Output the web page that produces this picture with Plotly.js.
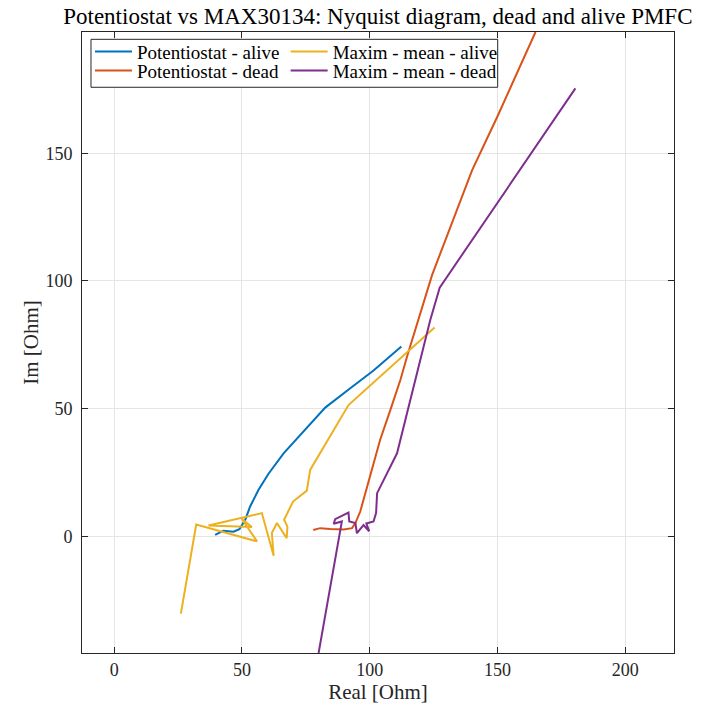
<!DOCTYPE html>
<html>
<head>
<meta charset="utf-8">
<script src="https://cdn.plot.ly/plotly-3.0.1.min.js"></script>
<style>html,body{margin:0;padding:0;background:#fff;}#chart{width:705px;height:708px;}</style>
</head>
<body>
<div id="chart"></div>
<script>
// Potentiostat - alive
const potAliveRe = [39.5,42.8,46.7,49.0,51.3,53.2,56.5,60.4,66.3,72.8,82.6,92.4,101.5,112.4];
const potAliveIm = [0.6,2.2,1.8,2.8,6.5,11.7,18.2,24.5,32.5,39.7,50.4,58.0,64.9,74.3];
// Potentiostat - dead
const potDeadRe = [77.9,80.6,84.6,89.8,93.1,94.4,96.3,98.3,100.9,104.1,108.1,112.0,114.6,124.4,140.1,149.9,164.9];
const potDeadIm = [2.5,3.2,2.9,2.7,3.2,5.2,9.7,16.9,27.3,37.8,49.5,61.2,70.3,102.3,143.4,164.2,197.5];
// Maxim - mean - alive
const maxAliveRe = [26.1,32.1,55.9,50.0,53.9,36.9,57.8,62.4,61.7,63.7,67.5,67.8,66.5,70.0,75.4,76.7,91.7,125.4];
const maxAliveIm = [-30.3,4.6,-2.0,6.8,3.6,4.2,9.1,-7.6,1.3,5.2,-0.7,3.8,6.5,13.6,17.9,26.0,51.4,81.8];
// Maxim - mean - dead
const maxDeadRe = [180.5,127.4,123.7,119.8,115.9,110.7,102.9,102.5,101.5,98.7,99.8,97.6,95.0,94.4,92.0,91.7,86.5,85.9,89.1,80.0];
const maxDeadIm = [175.4,97.4,84.7,69.0,53.4,32.5,16.9,9.1,5.8,5.0,2.0,4.4,1.2,5.2,5.8,9.3,6.7,4.9,5.8,-45.7];

const xTicks = [0,50,100,150,200];
const yTicks = [0,50,100,150];

const FONT = '"Liberation Serif", "DejaVu Serif", serif';
const lw = 2;

const traces = [
  {x: potAliveRe, y: potAliveIm, name: 'Potentiostat - alive', mode: 'lines', line: {color: '#0072BD', width: lw}, legend: 'legend'},
  {x: potDeadRe, y: potDeadIm, name: 'Potentiostat - dead', mode: 'lines', line: {color: '#D95319', width: lw}, legend: 'legend2'},
  {x: maxAliveRe, y: maxAliveIm, name: 'Maxim - mean - alive', mode: 'lines', line: {color: '#EDB120', width: lw}, legend: 'legend3'},
  {x: maxDeadRe, y: maxDeadIm, name: 'Maxim - mean - dead', mode: 'lines', line: {color: '#7E2F8E', width: lw}, legend: 'legend4'}
];

const axisCommon = {
  showgrid: true, gridcolor: '#e5e5e5', gridwidth: 1,
  zeroline: false, showline: true, linecolor: '#262626', linewidth: 1,
  mirror: 'ticks', ticks: 'inside', ticklen: 6, tickcolor: '#262626', tickwidth: 1,
  tickfont: {family: FONT, size: 18, color: '#262626'},
  automargin: false
};

function leg(x, y) {
  return {x: x, y: y, xanchor: 'left', yanchor: 'middle', bgcolor: 'rgba(0,0,0,0)', borderwidth: 0,
          font: {family: FONT, size: 19, color: '#000000'}, itemwidth: 37};
}

const layout = {
  width: 705, height: 708,
  margin: {l: 82, r: 31, t: 32, b: 55},
  paper_bgcolor: '#ffffff', plot_bgcolor: '#ffffff',
  font: {family: FONT, color: '#262626'},
  title: {text: 'Potentiostat vs MAX30134: Nyquist diagram, dead and alive PMFC',
          font: {family: FONT, size: 23, color: '#000000'},
          x: 0.536, xanchor: 'center', xref: 'container', y: 0.977, yanchor: 'middle', yref: 'container'},
  xaxis: Object.assign({}, axisCommon, {
    range: [-12.6, 219.1], tickmode: 'array', tickvals: xTicks, ticktext: xTicks.map(String),
    ticklabelstandoff: 0,
    title: {text: 'Real [Ohm]', font: {family: FONT, size: 21, color: '#262626'}, standoff: 2}
  }),
  yaxis: Object.assign({}, axisCommon, {
    range: [-45.7, 197.5], tickmode: 'array', tickvals: yTicks, ticktext: yTicks.map(String),
    ticklabelstandoff: 5,
    title: {text: 'Im [Ohm]', font: {family: FONT, size: 21, color: '#262626'}, standoff: 1}
  }),
  showlegend: true,
  legend: leg(0.0135, 0.9683),
  legend2: leg(0.0135, 0.9377),
  legend3: leg(0.3440, 0.9683),
  legend4: leg(0.3440, 0.9377),
  shapes: [
    {type: 'rect', xref: 'paper', yref: 'paper', x0: 0.0152, x1: 0.7022, y0: 0.9110, y1: 0.9882,
     line: {color: '#262626', width: 1}, fillcolor: '#ffffff', layer: 'above'}
  ]
};

Plotly.newPlot('chart', traces, layout, {displayModeBar: false, staticPlot: true});
</script>
</body>
</html>
